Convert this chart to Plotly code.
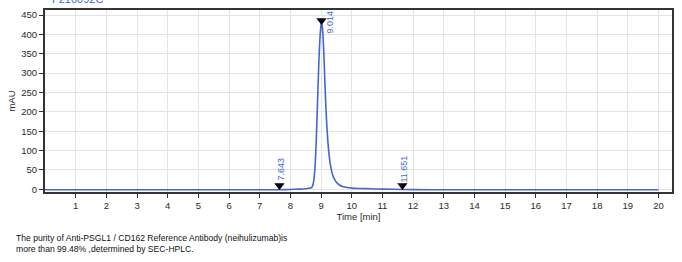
import plotly.graph_objects as go

# Chromatogram trace (time in min, absorbance in mAU)
time_min = [0.0, 2.0, 4.0, 6.0, 7.0, 7.643, 8.0, 8.3, 8.5, 8.6, 8.68, 8.72, 8.76, 8.8,
            8.84, 8.88, 8.92, 8.96, 9.0, 9.014, 9.03, 9.06, 9.09, 9.12, 9.15, 9.18,
            9.22, 9.26, 9.3, 9.35, 9.4, 9.5, 9.6, 9.7, 9.85, 10.0, 10.3, 10.6, 11.0,
            11.651, 12.5, 14.0, 16.0, 18.0, 20.0]
mau = [-1.0, -1.0, -1.0, -1.0, -1.0, -1.0, -0.5, 0.5, 1.5, 2.5, 4.0, 8.0, 22.0, 55.0,
       120.0, 215.0, 310.0, 385.0, 425.0, 430.0, 426.0, 400.0, 350.0, 285.0, 225.0, 175.0,
       125.0, 90.0, 65.0, 45.0, 32.0, 18.0, 11.0, 7.0, 4.5, 3.0, 2.0, 1.2, 0.5,
       -0.5, -1.0, -1.0, -1.0, -1.0, -1.0]

# Peak markers
peak_times = [7.643, 9.014, 11.651]
peak_labels = ["7.643", "9.014", "11.651"]
peak_marker_y = [10, 436, 10]
label_y = [52, 432, 52]
label_dx = [2, 8, 2]

x_ticks = list(range(1, 21))
y_ticks = list(range(0, 451, 50))

blue = "#4466d4"

fig = go.Figure()
fig.add_trace(go.Scatter(x=time_min, y=mau, mode="lines",
                         line=dict(color=blue, width=1.6, shape="spline", smoothing=0.6),
                         hoverinfo="skip"))
fig.add_trace(go.Scatter(x=peak_times, y=peak_marker_y, mode="markers",
                         marker=dict(symbol="triangle-down", size=9, color="black"),
                         hoverinfo="skip"))

for t, lab, ly, dx in zip(peak_times, peak_labels, label_y, label_dx):
    fig.add_annotation(x=t, y=ly, text=lab, showarrow=False, textangle=-90,
                       xshift=dx, font=dict(family="Liberation Sans, Arial", size=9, color=blue))

fig.add_annotation(xref="paper", yref="paper", x=0.008, y=1.018, xanchor="left", yanchor="bottom",
                   text="F210092C", showarrow=False,
                   font=dict(family="Liberation Sans, Arial", size=11, color=blue))

fig.add_annotation(xref="paper", yref="paper", x=-0.049, y=-0.215, xanchor="left", yanchor="top",
                   text="The purity of Anti-PSGL1 / CD162 Reference Antibody (neihulizumab)is<br>more than 99.48% ,determined by SEC-HPLC.",
                   align="left", showarrow=False,
                   font=dict(family="Liberation Sans, Arial", size=8.6, color="#111111"))

axis_font = dict(family="Liberation Sans, Arial", size=9.5, color="#2a2a2a")
fig.update_layout(
    width=682, height=262,
    margin=dict(l=45, r=10, t=8, b=70),
    paper_bgcolor="white", plot_bgcolor="white",
    showlegend=False,
    xaxis=dict(range=[0, 20.44], tickvals=x_ticks, ticks="outside", ticklen=4,
               tickcolor="#333333", tickfont=axis_font, showgrid=True, gridcolor="#e4e4e4",
               gridwidth=1, zeroline=False, showline=True, linecolor="#333333", linewidth=2,
               mirror=True,
               title=dict(text="Time [min]", font=axis_font, standoff=2)),
    yaxis=dict(range=[-7, 463], tickvals=y_ticks, ticks="outside", ticklen=4,
               tickcolor="#333333", tickfont=axis_font, showgrid=True, gridcolor="#e4e4e4",
               gridwidth=1, zeroline=False, showline=True, linecolor="#333333", linewidth=2,
               mirror=True,
               title=dict(text="mAU", font=axis_font, standoff=4)),
)

fig.write_html("out.html")
